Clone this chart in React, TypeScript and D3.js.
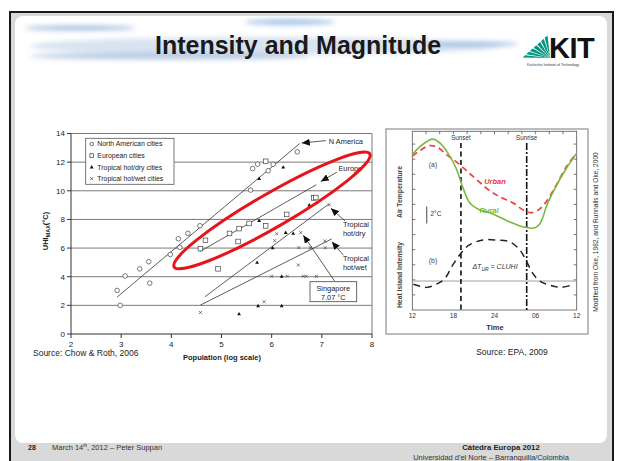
import React, { useEffect } from 'react';
import * as d3 from 'd3';

const W = 622;
const H = 461;
const FONT = 'Liberation Sans, Arial, sans-serif';

// --- Chow & Roth 2006: UHI max vs population (log scale) ---
const naCities: [number, number][] = [
  [2.92, 3.04], [2.98, 2.0], [3.08, 4.05], [3.37, 4.55], [3.55, 5.05], [3.57, 3.55],
  [3.98, 5.55], [4.14, 6.65], [4.17, 6.05], [4.33, 7.03], [4.57, 7.56], [5.58, 10.05],
  [5.62, 11.55], [5.72, 11.86], [5.93, 11.4], [6.03, 11.85], [6.51, 12.72],
];
const euCities: [number, number][] = [
  [4.58, 5.96], [4.68, 6.54], [4.93, 4.55], [5.16, 7.02], [5.33, 6.46], [5.35, 7.36],
  [5.55, 7.72], [5.88, 7.55], [5.88, 12.06], [6.3, 8.35], [6.84, 9.5], [6.88, 9.53],
];
const hotDryCities: [number, number][] = [
  [5.35, 1.4], [5.71, 5.0], [5.73, 1.97], [5.75, 7.92], [5.75, 10.85], [6.02, 6.02],
  [6.2, 4.03], [6.2, 1.97], [6.23, 11.65], [6.28, 7.08], [6.43, 7.02], [6.75, 9.0],
];
const hotWetCities: [number, number][] = [
  [4.58, 1.5], [5.85, 2.25], [6.0, 4.03], [6.06, 6.52], [6.1, 7.0], [6.31, 4.03],
  [6.53, 4.82], [6.54, 6.03], [6.58, 7.08], [6.63, 4.03], [6.69, 4.03], [6.77, 6.02],
  [6.89, 4.03], [7.06, 6.5], [7.07, 6.02], [7.15, 9.02],
];
const fitLines: [number, number][][] = [
  [[2.92, 2.58], [6.56, 13.3]],
  [[4.57, 5.76], [6.89, 10.42]],
  [[4.67, 2.6], [7.14, 9.08]],
  [[4.58, 2.02], [7.2, 6.64]],
];
const legendItems = ['North American cities', 'European cities', 'Tropical hot/dry cities', 'Tropical hot/wet cities'];
const popTicks = [2, 3, 4, 5, 6, 7, 8];
const uhiTicks = [0, 2, 4, 6, 8, 10, 12, 14];

// --- EPA 2009: diurnal air temperature & heat island intensity ---
const urbanTemp: [number, number][] = [
  [12, 10.2], [13.2, 10.6], [14.6, 10.9], [15.8, 10.75], [17, 10.3], [18.5, 9.8],
  [20, 9.2], [21.5, 8.6], [23.3, 7.9], [25, 7.45], [26.7, 7.1], [28.3, 6.6],
  [29.5, 6.45], [30.6, 6.7], [31.6, 7.2], [32.8, 8.1], [34.5, 9.5], [36, 10.4],
];
const ruralTemp: [number, number][] = [
  [12, 10.3], [13.3, 10.9], [15, 11.33], [16.2, 11.0], [17.2, 10.4], [18.4, 9.4],
  [19.4, 8.1], [20.4, 7.1], [21.8, 6.65], [23.3, 6.45], [26.2, 5.85], [28.2, 5.5],
  [29.9, 5.45], [30.6, 5.7], [31.1, 6.2], [31.6, 6.9], [32.8, 8.05], [34.5, 9.4], [36, 10.4],
];
const heatIsland: [number, number][] = [
  [12.15, 1.71], [14.1, 1.5], [15.5, 1.71], [16.7, 2.06], [17.9, 2.98], [19.1, 3.76],
  [20.3, 4.31], [22.3, 4.64], [24.3, 4.64], [26.2, 4.53], [27.7, 3.98], [28.7, 3.2],
  [29.6, 2.43], [30.6, 1.92], [32.0, 1.66], [33.7, 1.5], [35.3, 1.66],
];
const hiBaseline = 1.92;
const sunset = 19.1;
const sunrise = 28.7;
const timeTicks = [12, 18, 24, 30, 36];
const timeLabels = ['12', '18', '24', '06', '12'];

export default function App() {
  useEffect(() => {
    document.body.style.margin = '0';
  }, []);

  // left chart scales
  const x = d3.scaleLinear().domain([2, 8]).range([71, 372]);
  const y = d3.scaleLinear().domain([0, 14]).range([334, 133.5]);
  // right chart scales
  const tx = d3.scaleLinear().domain([12, 36]).range([412.3, 576.7]);
  const ty = d3.scaleLinear().domain([0, 12]).range([310, 129]);

  const curve = d3.line<[number, number]>().x(d => tx(d[0])).y(d => ty(d[1])).curve(d3.curveCatmullRom);

  const tri = (cx: number, cy: number, s: number) =>
    `M${cx},${cy - s} L${cx + s * 0.95},${cy + s * 0.7} L${cx - s * 0.95},${cy + s * 0.7}Z`;
  const cross = (cx: number, cy: number, s: number) =>
    `M${cx - s},${cy - s}L${cx + s},${cy + s}M${cx - s},${cy + s}L${cx + s},${cy - s}`;

  // annotation callouts
  const callouts = [
    { text: ['N America'], at: [7.14, 13.45], from: [7.08, 13.5], tip: [6.6, 13.34] },
    { text: ['Europe'], at: [7.33, 11.55], from: [7.3, 11.3], tip: [6.98, 10.65] },
    { text: ['Tropical', 'hot/dry'], at: [7.42, 7.67], from: [7.46, 7.9], tip: [7.18, 8.78] },
    { text: ['Tropical', 'hot/wet'], at: [7.42, 5.3], from: [7.43, 5.5], tip: [7.2, 6.44] },
  ];

  // KIT fan
  const fanPivot = [550, 58];
  const fanA = [522, 58];
  const fanB = [548, 35];
  const fan = d3.range(7).map(i => {
    const t0 = i / 7 + 0.018;
    const t1 = (i + 1) / 7 - 0.018;
    const p = (t: number) => [fanA[0] + t * (fanB[0] - fanA[0]), fanA[1] + t * (fanB[1] - fanA[1])];
    const a = p(t0), b = p(t1);
    return `M${fanPivot[0]},${fanPivot[1]}L${a[0]},${a[1]}L${b[0]},${b[1]}Z`;
  });

  return (
    <svg width={W} height={H} style={{ display: 'block', fontFamily: FONT }}>
      <defs>
        <filter id="blur" x="-20%" y="-200%" width="140%" height="500%">
          <feGaussianBlur stdDeviation="2.5" />
        </filter>
        <marker id="arr" markerUnits="userSpaceOnUse" markerWidth="9" markerHeight="7" refX="8" refY="3.5" orient="auto">
          <path d="M0,0 L8,3.5 L0,7 Z" fill="#111" />
        </marker>
      </defs>

      {/* slide frame */}
      <rect x={0} y={0} width={W} height={H} fill="#fff" />
      <rect x={10} y={12} width={603} height={460} fill="#d9d9d9" stroke="#1a1a1a" strokeWidth={2} />
      <rect x={15} y={16} width={592} height={427} rx={8} fill="#fff" />

      {/* title brush strokes */}
      <g filter="url(#blur)">
        <ellipse cx={80} cy={28} rx={55} ry={2.4} fill="#8fb0d8" opacity={0.8} />
        <ellipse cx={290} cy={22} rx={45} ry={3} fill="#98bae4" opacity={0.85} />
        <ellipse cx={265} cy={46} rx={235} ry={9} fill="#d8e3f0" />
        <ellipse cx={170} cy={56} rx={140} ry={3.5} fill="#b9cce2" />
        <ellipse cx={470} cy={44} rx={48} ry={2.5} fill="#a3bfe2" />
      </g>
      <text x={298} y={54} textAnchor="middle" fontSize={25} fontWeight="bold" fill="#1a1a1a">
        Intensity and Magnitude
      </text>

      {/* KIT logo */}
      {fan.map((d, i) => <path key={i} d={d} fill="#009682" />)}
      <text x={549} y={58} fontSize={29} fontWeight="bold" fill="#111" letterSpacing={-0.5}>KIT</text>
      <text x={527} y={65.5} fontSize={3.6} fill="#333">Karlsruhe Institute of Technology</text>

      {/* ===== left chart ===== */}
      <g>
        {uhiTicks.filter(v => v > 0).map(v => (
          <line key={v} x1={x(2)} x2={x(8)} y1={y(v)} y2={y(v)} stroke="#7a7a7a" strokeWidth={1} />
        ))}
        <line x1={x(8)} x2={x(8)} y1={y(0)} y2={y(14)} stroke="#7a7a7a" strokeWidth={1} />
        <line x1={x(2)} x2={x(2)} y1={y(0)} y2={y(14)} stroke="#333" strokeWidth={1} />
        <line x1={x(2)} x2={x(8)} y1={y(0)} y2={y(0)} stroke="#333" strokeWidth={1} />
        {uhiTicks.map(v => (
          <g key={v}>
            <line x1={x(2) - 4} x2={x(2)} y1={y(v)} y2={y(v)} stroke="#333" />
            <text x={x(2) - 6} y={y(v)} dy="0.35em" textAnchor="end" fontSize={8} fill="#222">{v}</text>
          </g>
        ))}
        {popTicks.map(v => (
          <g key={v}>
            <line x1={x(v)} x2={x(v)} y1={y(0)} y2={y(0) + 4} stroke="#333" />
            <text x={x(v)} y={347} textAnchor="middle" fontSize={8} fill="#222">{v}</text>
          </g>
        ))}
        <text transform={`translate(48,${231}) rotate(-90)`} textAnchor="middle" fontSize={7.5} fontWeight="bold" fill="#222">
          UHI<tspan fontSize={5.5} dy={1.5}>MAX</tspan><tspan dy={-1.5}>(°C)</tspan>
        </text>
        <text x={222} y={360} textAnchor="middle" fontSize={7.5} fontWeight="bold" fill="#222">Population (log scale)</text>
        <text x={33} y={356} fontSize={8.5} fill="#222">Source: Chow &amp; Roth, 2006</text>

        {/* legend */}
        <rect x={85.7} y={138.3} width={88.3} height={46} fill="#fff" stroke="#555" strokeWidth={0.8} />
        {legendItems.map((t, i) => {
          const ly = 144 + i * 11.55;
          const lx = 91.7;
          return (
            <g key={t}>
              {i === 0 && <circle cx={lx} cy={ly} r={1.8} fill="#fff" stroke="#333" strokeWidth={0.7} />}
              {i === 1 && <rect x={lx - 1.8} y={ly - 1.8} width={3.6} height={3.6} fill="#fff" stroke="#333" strokeWidth={0.7} />}
              {i === 2 && <path d={tri(lx, ly, 2)} fill="#111" />}
              {i === 3 && <path d={cross(lx, ly, 1.5)} stroke="#333" strokeWidth={0.7} />}
              <text x={97.3} y={ly} dy="0.35em" fontSize={6.9} fill="#222">{t}</text>
            </g>
          );
        })}

        {/* fit lines */}
        {fitLines.map((l, i) => (
          <line key={i} x1={x(l[0][0])} y1={y(l[0][1])} x2={x(l[1][0])} y2={y(l[1][1])} stroke="#333" strokeWidth={0.8} />
        ))}

        {/* points */}
        {naCities.map((d, i) => (
          <circle key={'na' + i} cx={x(d[0])} cy={y(d[1])} r={2.3} fill="#fff" stroke="#444" strokeWidth={0.7} />
        ))}
        {euCities.map((d, i) => (
          <rect key={'eu' + i} x={x(d[0]) - 2.3} y={y(d[1]) - 2.3} width={4.6} height={4.6} fill="#fff" stroke="#444" strokeWidth={0.7} />
        ))}
        {hotDryCities.map((d, i) => (
          <path key={'hd' + i} d={tri(x(d[0]), y(d[1]), 2)} fill="#111" />
        ))}
        {hotWetCities.map((d, i) => (
          <path key={'hw' + i} d={cross(x(d[0]), y(d[1]), 1.5)} stroke="#444" strokeWidth={0.7} />
        ))}

        {/* callouts */}
        {callouts.map((c, i) => (
          <g key={i}>
            <line x1={x(c.from[0])} y1={y(c.from[1])} x2={x(c.tip[0])} y2={y(c.tip[1])} stroke="#333" strokeWidth={0.8} markerEnd="url(#arr)" />
            {c.text.map((t, j) => (
              <text key={t} x={x(c.at[0])} y={y(c.at[1]) + j * 9.3} dy="0.35em" fontSize={7.4} fill="#222">{t}</text>
            ))}
          </g>
        ))}
        <line x1={335} y1={281.7} x2={x(6.63)} y2={y(6.9)} stroke="#333" strokeWidth={0.8} markerEnd="url(#arr)" />
        <rect x={310} y={281.7} width={46.7} height={20} fill="#fff" stroke="#444" strokeWidth={0.8} />
        <text x={333.3} y={288.5} dy="0.35em" textAnchor="middle" fontSize={7.4} fill="#222">Singapore</text>
        <text x={333.3} y={297.5} dy="0.35em" textAnchor="middle" fontSize={7.4} fill="#222">7.07 °C</text>

        {/* red highlight */}
        <ellipse cx={272} cy={210.4} rx={113} ry={17} transform="rotate(-30 272 210.4)" fill="none" stroke="#e8141c" strokeWidth={3} />
      </g>

      {/* ===== right chart ===== */}
      <g>
        <rect x={386} y={129} width={202} height={205} fill="#fff" stroke="#999" strokeWidth={1.3} />
        <rect x={tx(12)} y={ty(11.85)} width={tx(36) - tx(12)} height={ty(0) - ty(11.85)} fill="none" stroke="#555" strokeWidth={0.8} />
        {d3.range(1, 12).map(v => (
          <g key={v}>
            <line x1={tx(12)} x2={tx(12) + 3} y1={ty(v)} y2={ty(v)} stroke="#555" strokeWidth={0.8} />
            <line x1={tx(36) - 3} x2={tx(36)} y1={ty(v)} y2={ty(v)} stroke="#555" strokeWidth={0.8} />
          </g>
        ))}
        {d3.range(14, 36, 2).map(v => (
          <line key={v} x1={tx(v)} x2={tx(v)} y1={ty(11.85)} y2={ty(11.85) + 3} stroke="#555" strokeWidth={0.8} />
        ))}
        {timeTicks.map((v, i) => (
          <text key={v} x={tx(v)} y={316} dy="0.35em" textAnchor="middle" fontSize={6.5} fill="#333">{timeLabels[i]}</text>
        ))}
        <text x={495} y={327} dy="0.35em" textAnchor="middle" fontSize={7.5} fontWeight="bold" fill="#333">Time</text>
        <text transform="translate(400,192) rotate(-90)" textAnchor="middle" dy="0.35em" fontSize={6.8} fontWeight="bold" fill="#444">Air Temperature</text>
        <text transform="translate(400,275) rotate(-90)" textAnchor="middle" dy="0.35em" fontSize={6.8} fontWeight="bold" fill="#444">Heat Island Intensity</text>

        <line x1={tx(12)} x2={tx(36)} y1={ty(hiBaseline)} y2={ty(hiBaseline)} stroke="#888" strokeWidth={0.8} />

        <line x1={tx(sunset)} x2={tx(sunset)} y1={143} y2={ty(0)} stroke="#111" strokeWidth={1.6} strokeDasharray="5,3.5" />
        <line x1={tx(sunrise)} x2={tx(sunrise)} y1={143} y2={ty(0)} stroke="#111" strokeWidth={1.6} strokeDasharray="7,2,2,2" />
        <text x={tx(sunset)} y={140} textAnchor="middle" fontSize={6.3} fill="#333">Sunset</text>
        <text x={tx(sunrise)} y={140} textAnchor="middle" fontSize={6.3} fill="#333">Sunrise</text>

        <path d={curve(urbanTemp) ?? ''} fill="none" stroke="#f04848" strokeWidth={1.8} strokeDasharray="6,4" />
        <path d={curve(ruralTemp) ?? ''} fill="none" stroke="#78b83c" strokeWidth={1.6} />
        <path d={curve(heatIsland) ?? ''} fill="none" stroke="#222" strokeWidth={1.5} strokeDasharray="7,5" />

        <text x={495} y={181} dy="0.35em" textAnchor="middle" fontSize={7.5} fontWeight="bold" fontStyle="italic" fill="#e83a3a">Urban</text>
        <text x={489} y={210} dy="0.35em" textAnchor="middle" fontSize={7.5} fontWeight="bold" fontStyle="italic" fill="#78b83c">Rural</text>
        <text x={433} y={165} dy="0.35em" textAnchor="middle" fontSize={6.8} fill="#444">(a)</text>
        <text x={433} y={260.7} dy="0.35em" textAnchor="middle" fontSize={6.8} fill="#444">(b)</text>
        <line x1={426.7} x2={426.7} y1={206.5} y2={223.5} stroke="#666" strokeWidth={1.2} />
        <text x={430.5} y={213.5} dy="0.35em" fontSize={6.5} fill="#333">2°C</text>
        <text x={495} y={266.7} dy="0.35em" textAnchor="middle" fontSize={7} fontStyle="italic" fill="#333">
          ΔT<tspan fontSize={5} dy={1.5}>UR</tspan><tspan dy={-1.5}> = CLUHI</tspan>
        </text>

        <text transform="translate(596,232) rotate(-90)" textAnchor="middle" dy="0.35em" fontSize={6.6} fill="#333">
          Modified from Oke, 1982, and Runnalls and Oke, 2000
        </text>
        <text x={512} y={354.5} textAnchor="middle" fontSize={8.5} fill="#222">Source: EPA, 2009</text>
      </g>

      {/* footer */}
      <text x={28} y={449.5} fontSize={7} fontWeight="bold" fill="#222">28</text>
      <text x={52} y={449.5} fontSize={7.5} fill="#333">
        March 14<tspan fontSize={4.5} dy={-2.5}>th</tspan><tspan dy={2.5}>, 2012 – Peter Suppan</tspan>
      </text>
      <text x={501} y={449.5} textAnchor="middle" fontSize={7.8} fontWeight="bold" fill="#222">Cátedra Europa 2012</text>
      <text x={491} y={459.5} textAnchor="middle" fontSize={7.5} fill="#333">Universidad d'el Norte – Barranquilla/Colombia</text>
    </svg>
  );
}
